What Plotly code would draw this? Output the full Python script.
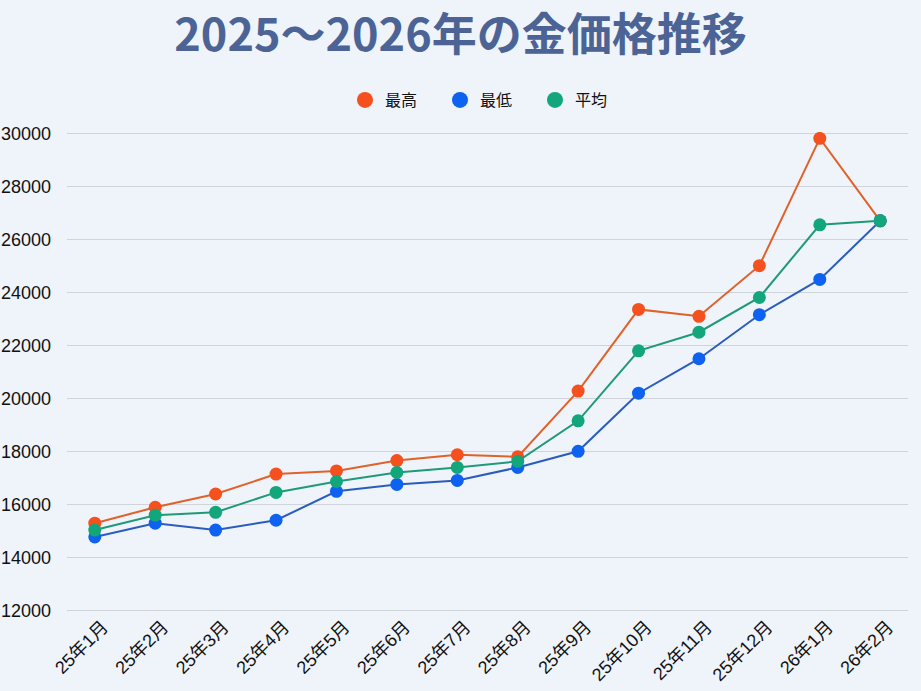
import plotly.graph_objects as go

months = ["25年1月", "25年2月", "25年3月", "25年4月", "25年5月", "25年6月", "25年7月",
          "25年8月", "25年9月", "25年10月", "25年11月", "25年12月", "26年1月", "26年2月"]
high = [15300, 15900, 16400, 17150, 17270, 17660, 17880, 17800, 20280, 23360, 23100, 25010, 29810, 26700]
low = [14780, 15300, 15040, 15410, 16500, 16760, 16910, 17400, 18010, 20200, 21500, 23160, 24490, 26700]
avg = [15040, 15600, 15710, 16460, 16870, 17210, 17400, 17630, 19160, 21800, 22500, 23810, 26550, 26700]
y_ticks = list(range(12000, 30001, 2000))

series = [
    ("最高", high, "#f4511e", "#e0622a"),
    ("最低", low, "#0d62f0", "#2a5cc0"),
    ("平均", avg, "#12a67a", "#1f9a78"),
]

fig = go.Figure()
for name, vals, mcol, lcol in series:
    fig.add_trace(go.Scatter(
        x=months, y=vals, name=name, mode="lines+markers", showlegend=False,
        line=dict(color=lcol, width=2),
        marker=dict(color=mcol, size=13),
    ))
for name, vals, mcol, lcol in series:
    fig.add_trace(go.Scatter(
        x=[None], y=[None], name=name, mode="markers", showlegend=True,
        marker=dict(color=mcol, size=18),
    ))

cjk = "Noto Sans CJK JP, Noto Sans, sans-serif"
tickfam = "Liberation Sans, Arial, Noto Sans CJK JP, sans-serif"
fig.update_layout(
    width=921, height=691,
    paper_bgcolor="#eff3fa", plot_bgcolor="#eff3fa",
    margin=dict(l=67, r=13, t=132, b=79),
    font=dict(family=cjk, color="#111111", size=15),
    title=dict(text="<b>2025～2026年の金価格推移</b>", x=0.5, xanchor="center",
               y=1 - 35 / 691, yanchor="middle",
               font=dict(size=45, color="#4b6495", family=cjk)),
    legend=dict(orientation="h", x=0.5, xanchor="center", y=1 + 32 / 480, yanchor="middle",
                font=dict(size=16, color="#111111", family=cjk),
                traceorder="normal", entrywidth=50, bgcolor="rgba(0,0,0,0)"),
)
fig.update_xaxes(range=[-0.46, 13.46], tickangle=-45, showgrid=False, zeroline=False,
                 showline=False, ticks="", automargin=False, ticklabelshift=8,
                 tickfont=dict(size=18, color="#111111", family=tickfam))
fig.update_yaxes(range=[11950, 30050], tickvals=y_ticks, ticktext=[str(v) for v in y_ticks],
                 showgrid=True, gridcolor="#cfd3da", gridwidth=1, zeroline=False,
                 showline=False, ticks="", automargin=False,
                 tickfont=dict(size=18, color="#111111", family=tickfam),
                 ticklabelstandoff=15)

fig.write_html("out.html", config={"displayModeBar": False},
               post_script="document.body.style.margin='0';document.body.style.background='#eff3fa';")
